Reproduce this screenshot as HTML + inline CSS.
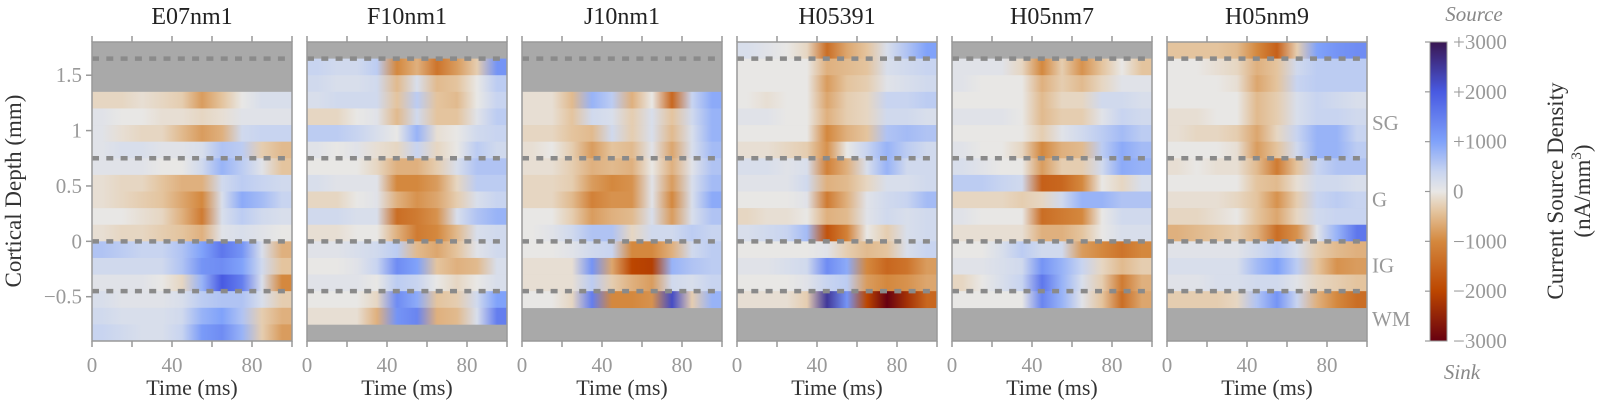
<!DOCTYPE html>
<html><head><meta charset="utf-8">
<style>
html,body{margin:0;padding:0;background:#fff;}
svg{display:block;font-family:"Liberation Serif","DejaVu Serif",serif;}
</style></head>
<body>
<svg id="chart" width="1606" height="408" viewBox="0 0 1606 408" xmlns="http://www.w3.org/2000/svg">
<defs id="defs"></defs>
</svg>
<script>
// ---- data (values in thousands of nA/mm^3; negative = sink) ----
const panelNames = ["E07nm1","F10nm1","J10nm1","H05391","H05nm7","H05nm9"];
const panelTopDepth = [1.35, 1.65, 1.35, 1.8, 1.65, 1.8];
const timeBins = [0,10,20,30,40,50,60,70,80,90];
const layerBoundaries = [1.65, 0.75, 0, -0.45];
const layerNames = ["SG","G","IG","WM"];
const layerLabelDepth = [1.07, 0.38, -0.22, -0.7];
const yTicks = [1.5, 1, 0.5, 0, -0.5];
const yTickLabels = ["1.5","1","0.5","0","\u22120.5"];
const xTicks = [0,20,40,60,80,100];
const xTickLabels = ["0","","40","","80",""];
const cbTicks = [3,2,1,0,-1,-2,-3];
const cbTickLabels = ["+3000","+2000","+1000","0","\u22121000","\u22122000","\u22123000"];

const csdE07 = [
[-0.2,-0.2,-0.1,-0.2,-0.3,-0.8,-0.4,0,0.2,0.2],
[0.1,0,0,-0.1,-0.1,-0.2,-0.1,0.1,0.1,0.1],
[0.1,-0.1,-0.2,-0.2,-0.5,-0.8,-0.6,0.3,0.4,0.4],
[0.1,0.2,0.2,0.1,0.1,0.2,0.6,0.5,-0.3,-0.5],
[0.1,0.1,0.1,0,0,0.3,0.8,0.5,0.1,-0.4],
[-0.1,-0.2,-0.2,-0.4,-0.6,-0.6,0.3,0.5,0.4,0.3],
[-0.1,-0.2,-0.3,-0.4,-0.7,-1.0,0.2,0.9,0.7,0.4],
[0,0,-0.1,-0.2,-0.6,-1.2,0.2,0.5,0.3,0.2],
[-0.1,-0.2,-0.2,-0.3,-0.4,-0.6,0.1,0.2,0.1,0],
[0.6,0.5,0.4,0.4,0.6,1.0,1.6,1.2,0.2,-0.6],
[0.3,0.3,0.3,0.3,0.6,1.2,1.3,1.0,0.3,-0.4],
[0.1,0.1,0.1,0,-0.2,0.8,2.0,1.5,0.2,-1.0],
[0.2,0.1,0.1,0.1,0.2,0.5,0.6,0.6,0.2,-0.3],
[0.3,0.2,0.2,0.2,0.3,0.8,1.0,0.6,-0.3,-0.6],
[0.4,0.3,0.2,0.2,0.4,1.1,1.3,0.8,-0.3,-0.8]];
const csdF10 = [
[0.4,0.3,0.3,0.5,-1.0,-0.6,-1.3,-0.8,-0.3,1.2],
[0.3,0.2,0.2,0.3,-0.5,0.2,-0.5,-0.4,0,0.5],
[0.2,0.3,0.3,0.3,-0.4,0.5,-0.4,-0.5,0,0.4],
[-0.2,-0.2,0,0.1,-0.5,0.3,-0.4,-0.4,0.1,0.5],
[0.5,0.5,0.4,0.2,0,0.8,-0.1,0,0.3,0.4],
[0.1,0,0.1,-0.1,-0.2,0.4,-0.2,0,0.5,0.3],
[0,0,0,-0.2,-0.6,-0.6,-0.3,0.2,0.6,0.6],
[0.2,0.1,0.1,0.1,-1.0,-1.0,-0.8,-0.2,0.5,0.5],
[-0.2,-0.2,0,0.1,-0.6,-0.9,-0.7,-0.3,0.2,0.4],
[0.3,0.3,0.2,0.2,-1.4,-1.2,-0.9,0.2,0.6,0.8],
[-0.1,-0.1,0,0,-0.6,-1.2,-1.0,-0.5,0.2,0.3],
[0.1,0.1,0.2,0.3,0.5,-0.5,-0.7,-0.4,0.1,0.3],
[0,0,0.1,0.4,1.3,1.0,-0.4,-0.6,-0.5,0.2],
[0.1,0.1,0.1,0,0.5,0.4,0,-0.2,0,0.2],
[0,0,0,-0.2,1.3,0.9,-0.4,-0.3,0.3,1.0],
[-0.1,-0.1,-0.1,-0.6,1.2,1.4,-0.6,-0.5,0.2,1.5]];
const csdJ10 = [
[-0.1,-0.1,-0.5,0.8,0.5,-0.6,0,-1.5,0.4,0.9],
[-0.1,-0.1,-0.4,0.3,0.2,-0.3,0.2,-0.4,0.3,0.8],
[-0.2,-0.2,-0.4,-0.5,0.3,-0.3,0.2,-0.5,0.2,0.8],
[-0.1,0,-0.3,-0.8,-0.4,-0.5,0.1,-0.7,0.2,0.7],
[-0.1,-0.1,-0.3,-0.6,-0.5,-0.6,0,-0.6,0.1,0.6],
[-0.2,-0.2,-0.3,-0.8,-1.0,-0.9,0.1,-0.8,0.2,0.7],
[-0.2,-0.2,-0.5,-1.1,-0.9,-0.9,0.1,-1.0,0.2,0.9],
[0,0,-0.3,-0.8,-0.6,-0.5,0.2,-0.8,0.2,0.6],
[0,0.1,0.3,0.6,0.6,-0.2,0.3,0.3,0.5,0.4],
[0,0,0.1,0.3,0.4,-1.0,-1.0,-0.6,0.3,0.5],
[-0.1,-0.1,-0.1,1.2,-0.7,-2.0,-2.1,0.8,0.6,0.5],
[-0.1,-0.1,-0.1,0.5,-0.3,-0.6,-0.8,0.3,0.2,0.4],
[0,0,-0.2,1.5,-1.0,-1.0,-0.9,2.2,-0.3,0.8]];
const csdH391 = [
[0.2,0.1,0,-0.2,-1.4,-0.7,-0.4,0.2,0.6,1.0],
[0,0,0,0,-0.6,-0.5,-0.4,0.2,0.3,0.4],
[0,0,0,0,-0.8,-0.4,-0.3,0.1,0.2,0.3],
[0,-0.1,0,0,-0.7,-0.3,-0.2,0.4,0.4,0.5],
[0.1,0.1,0,0,-0.6,-0.3,-0.2,0.3,0.3,0.2],
[0,0,0,0,-1.0,-0.6,-0.4,0.6,0.7,0.6],
[-0.1,-0.1,-0.2,-0.3,-0.9,0,0.4,0.8,0.5,0.3],
[0.2,0.2,0.1,0.2,-1.1,-0.6,0.2,0.8,0.3,0.3],
[0.1,0.1,0.1,0.3,-0.6,-0.5,-0.2,0.2,0.2,0.3],
[0,0,0,0.1,-1.2,-0.6,0.1,0.3,0.4,0.7],
[-0.2,-0.1,-0.1,0,-0.6,-0.5,0.1,0.3,0.2,0.3],
[0.2,0.3,0.4,0.7,-1.8,-1.1,0,-0.3,0.2,0.3],
[0,0,0,0,0.1,-0.3,-0.5,-0.4,0.2,0.4],
[0.1,0.1,0.2,0.3,1.3,0.9,-1.0,-1.5,-1.3,-0.8],
[0,0,0,0.1,0.4,0.5,-0.8,-1.0,-0.9,-0.7],
[-0.1,-0.1,-0.1,-0.3,2.5,1.2,-2.0,-3.0,-2.3,-1.5]];
const csdH07 = [
[0.1,0.1,0.1,-0.2,-1.0,-0.3,-0.9,-0.4,0,-0.4],
[0.1,0,0,0,-0.6,-0.3,-0.5,-0.2,0.1,0.1],
[0,0,0,0,-0.5,-0.2,-0.2,0.3,0.3,0.2],
[0.1,0.1,0.1,0,-0.5,-0.3,-0.3,0.1,0.4,0.3],
[0,0,0,0,-0.3,0.1,0.3,0.5,0.7,0.5],
[0.1,0,0,-0.2,-1.0,-0.6,-0.5,0.5,0.9,0.7],
[0.2,0.1,0,0,-0.8,-0.3,-0.3,0.3,0.9,0.8],
[0.5,0.5,0.4,0.3,-1.6,-1.5,-1.0,0,-0.2,0.2],
[-0.2,-0.2,-0.2,-0.3,-0.2,0.3,0.8,0.8,0.6,0.6],
[0.1,0,0,0,-1.4,-1.2,-1.0,0,0.3,0.3],
[-0.1,-0.1,-0.1,-0.1,-0.6,-0.6,-0.4,0,0.2,0.2],
[0,0,0.2,0.5,0.3,0.3,-0.8,-1.0,-1.3,-1.0],
[0.1,0.1,0.2,0.3,1.2,0.8,0.4,-0.2,-0.5,-0.3],
[-0.2,0,0.2,0.4,1.6,0.8,0.2,-0.3,-1.2,-0.6],
[0,0,0,0,1.4,0.8,0.1,-0.4,-1.4,-0.7]];
const csdH09 = [
[-0.4,-0.4,-0.4,-0.5,-1.0,-1.6,-0.3,1.0,1.2,1.3],
[0,0,-0.1,-0.2,-0.6,-0.4,0.3,0.5,0.5,0.5],
[0,0,0,-0.1,-0.7,-0.4,0.4,0.5,0.5,0.5],
[0,0,0,0,-0.5,-0.3,0.2,0.4,0.3,0.2],
[-0.1,-0.1,0,0,-0.5,-0.3,0.2,0.4,0.4,0.3],
[-0.1,-0.2,-0.2,-0.3,-0.7,-0.2,0.4,0.8,0.8,0.4],
[0,0,0,-0.1,-0.8,-0.4,0.3,0.8,0.8,0.5],
[-0.1,0,-0.1,-0.1,-0.5,-1.2,-0.4,0.4,0.6,0.6],
[0,0,0,0,-0.4,-0.5,-0.1,0.3,0.3,0.2],
[-0.1,-0.1,-0.1,-0.2,-0.4,-0.9,-0.3,0.4,0.5,0.4],
[-0.2,-0.2,-0.1,0,-0.4,-0.7,-0.2,0.3,0.4,0.4],
[-0.6,-0.5,-0.4,-0.3,-0.6,-1.4,-0.9,0.1,0.8,1.6],
[0.1,0.1,0.1,0.1,0.3,0.5,0.2,-0.3,-0.5,-0.6],
[0.2,0.2,0.2,0.2,0.7,1.0,0.5,-0.4,-0.9,-0.8],
[0.1,0.1,0.2,0.2,0.3,0.3,0.1,-0.2,-0.3,-0.4],
[-0.3,-0.3,-0.3,-0.2,0.6,1.2,0.4,-0.6,-1.0,-1.4]];
const panelData = [csdE07, csdF10, csdJ10, csdH391, csdH07, csdH09];

// ---- layout ----
const NS = "http://www.w3.org/2000/svg";
const svg = document.getElementById("chart");
const defs = document.getElementById("defs");
const PLOT_TOP = 42, PLOT_BOTTOM = 341, PANEL_W = 200, PANEL_X0 = 92, PANEL_STEP = 215;
const D_MAX = 1.8, D_MIN = -0.9, ROW_H = 0.15, T_MAX = 100;
function yScale(d){ return PLOT_TOP + (D_MAX - d) / (D_MAX - D_MIN) * (PLOT_BOTTOM - PLOT_TOP); }
function xScale(i, t){ return PANEL_X0 + i * PANEL_STEP + t / T_MAX * PANEL_W; }

const cStops = [[-3,[103,0,16]],[-2,[188,70,0]],[-1,[212,136,62]],[-0.4,[228,196,158]],[0,[232,231,229]],[0.4,[200,212,240]],[1,[128,162,250]],[2,[72,90,226]],[3,[58,22,82]]];
function cmap(v){
  v = Math.max(-3, Math.min(3, v));
  for (let k=0;k<cStops.length-1;k++){
    const a=cStops[k], b=cStops[k+1];
    if (v>=a[0] && v<=b[0]){
      const f=(v-a[0])/(b[0]-a[0]);
      const c=a[1].map((x,j)=>Math.round(x+(b[1][j]-x)*f));
      return "rgb("+c.join(",")+")";
    }
  }
  return "rgb(232,231,229)";
}
function mk(tag, attrs, parent){
  const e=document.createElementNS(NS,tag);
  for (const k in attrs) e.setAttribute(k, attrs[k]);
  (parent||svg).appendChild(e);
  return e;
}
function txt(s, attrs, parent){ const e=mk("text", attrs, parent); e.textContent=s; return e; }

panelData.forEach((rows, i) => {
  const g = mk("g", {});
  
  
  const xL = xScale(i,0), xR = xScale(i,T_MAX);
  const bg = mk("rect", {x:xL, y:PLOT_TOP, width:PANEL_W, height:PLOT_BOTTOM-PLOT_TOP, fill:"#a9a9a9"}, g);
  
  
  rows.forEach((vals, r) => {
    const top = panelTopDepth[i] - r*ROW_H;
    const gid = "grad"+i+"_"+r;
    const lg = mk("linearGradient", {id:gid, gradientUnits:"userSpaceOnUse", x1:xL, x2:xR, y1:0, y2:0}, defs);
    vals.forEach((v, c) => {
      const off = (timeBins[c] + 5) / T_MAX;
      mk("stop", {offset:off, "stop-color":cmap(v)}, lg);
    });
    const y1 = yScale(top), y2 = yScale(top - ROW_H);
    const cell = mk("rect", {x:xL, y:y1, width:PANEL_W, height:(y2-y1)+0.3, fill:"url(#"+gid+")"}, g);
    
    
  });
  layerBoundaries.forEach(d => {
    const ln = mk("line", {x1:xL, x2:xR, y1:yScale(d), y2:yScale(d), stroke:"#8a8a8a", "stroke-width":4.5, "stroke-dasharray":"7,7.3"}, g);
    
    
  });
  const fr = mk("rect", {x:xL, y:PLOT_TOP, width:PANEL_W, height:PLOT_BOTTOM-PLOT_TOP, fill:"none", stroke:"#999", "stroke-width":1.5}, g);
  
  
  xTicks.forEach((t, k) => {
    const x = xScale(i,t);
    mk("line", {x1:x, x2:x, y1:PLOT_TOP, y2:PLOT_TOP-6, stroke:"#999", "stroke-width":1.5}, g);
    mk("line", {x1:x, x2:x, y1:PLOT_BOTTOM, y2:PLOT_BOTTOM+6, stroke:"#999", "stroke-width":1.5}, g);
    if (xTickLabels[k]) {
      const tl = txt(xTickLabels[k], {x:x, y:372, "text-anchor":"middle", "font-size":21, fill:"#999"}, g);
      
      
    }
  });
  const xt = txt("Time (ms)", {x:(xL+xR)/2, y:395, "text-anchor":"middle", "font-size":22, fill:"#333"}, g);
  
  
  const tt = txt(panelNames[i], {x:(xL+xR)/2, y:24, "text-anchor":"middle", "font-size":24, fill:"#222"}, g);
  
  
});

yTicks.forEach((d, k) => {
  const y = yScale(d);
  mk("line", {x1:PANEL_X0, x2:PANEL_X0-6, y1:y, y2:y, stroke:"#999", "stroke-width":1.5});
  const l = txt(yTickLabels[k], {x:PANEL_X0-10, y:y+7, "text-anchor":"end", "font-size":21, fill:"#999"});
  
  
});
const yTitle = txt("Cortical Depth (mm)", {x:0, y:0, transform:"translate(21,191) rotate(-90)", "text-anchor":"middle", "font-size":23, fill:"#333"});



layerNames.forEach((n, k) => {
  const l = txt(n, {x:1372, y:yScale(layerLabelDepth[k])+7, "font-size":21, fill:"#999"});
  
  
});

const CB_X = 1430, CB_W = 17;
const cbg = mk("linearGradient", {id:"cbgrad", x1:0, x2:0, y1:0, y2:1}, defs);
for (let k=0;k<=60;k++){ mk("stop", {offset:k/60, "stop-color":cmap(3 - 6*k/60)}, cbg); }
const cbr = mk("rect", {x:CB_X, y:PLOT_TOP, width:CB_W, height:PLOT_BOTTOM-PLOT_TOP, fill:"url(#cbgrad)", stroke:"#999", "stroke-width":1});


function cbY(v){ return PLOT_TOP + (3 - v)/6 * (PLOT_BOTTOM-PLOT_TOP); }
cbTicks.forEach((v, k) => {
  const y = cbY(v);
  mk("line", {x1:CB_X, x2:CB_X-5, y1:y, y2:y, stroke:"#999", "stroke-width":1.2});
  const l = txt(cbTickLabels[k], {x:CB_X+CB_W+6, y:y+7, "font-size":21, fill:"#999"});
  
  
});
const src = txt("Source", {x:1474, y:21, "text-anchor":"middle", "font-size":21, "font-style":"italic", fill:"#888"});


const snk = txt("Sink", {x:1462, y:379, "text-anchor":"middle", "font-size":21, "font-style":"italic", fill:"#888"});


const cbt = txt("Current Source Density", {x:0, y:0, transform:"translate(1563,191) rotate(-90)", "text-anchor":"middle", "font-size":23, fill:"#333"});


const cbu = mk("text", {x:0, y:0, transform:"translate(1590,191) rotate(-90)", "text-anchor":"middle", "font-size":23, fill:"#333"});


cbu.innerHTML = '(nA/mm<tspan dy="-9" font-size="15">3</tspan><tspan dy="9">)</tspan>';
</script>
</body></html>
